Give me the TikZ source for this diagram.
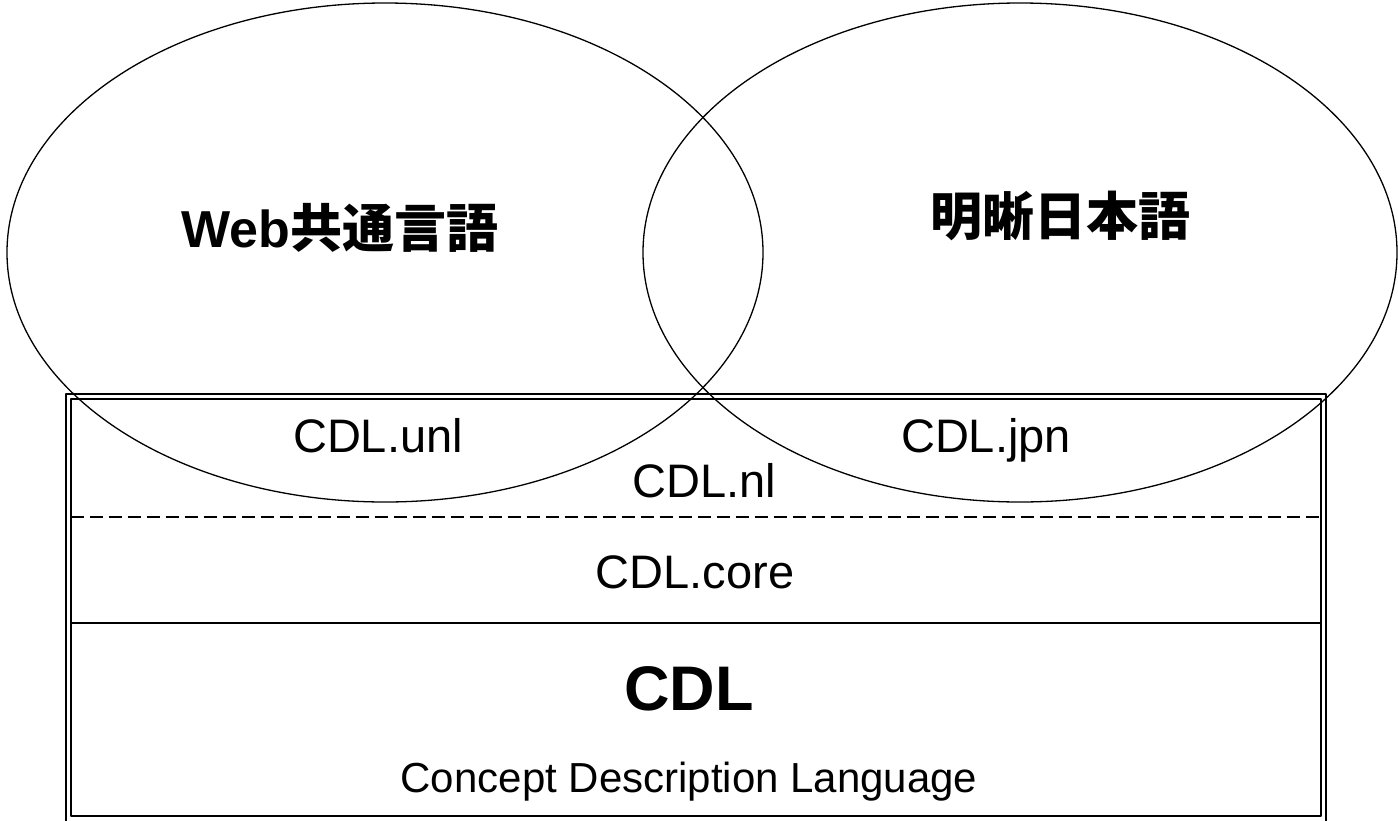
\documentclass[tikz,border=0pt]{standalone}
\usepackage{fontspec}
\setmainfont{Liberation Sans}
\newfontfamily\cjk{Noto Sans CJK JP}
\begin{document}
\begin{tikzpicture}[x=1pt,y=-1pt,line join=round,
	lbl/.style={inner sep=0pt,anchor=base,font=\fontsize{47}{50}\selectfont},
	ttl/.style={inner sep=0pt,font=\fontsize{52}{56}\selectfont\bfseries},
	rim/.style={line width=2pt}]
	\useasboundingbox (0,0) rectangle (1398,820);
	\draw[line width=1.3pt] (385,252.5) ellipse [x radius=378pt,y radius=249.5pt];
	\draw[line width=1.3pt] (1020,252.5) ellipse [x radius=377pt,y radius=249.5pt];
	\draw[rim] (65.5,394) rectangle (1325.5,830);
	\draw[rim] (70.5,398.5) rectangle (1320.5,816);
	\draw[rim,dash pattern=on 13pt off 6pt] (70.5,517) -- (1320.5,517);
	\draw[line width=1.5pt] (70.5,623) -- (1320.5,623);
	\node[ttl] (web) at (340,228) {Web{\cjk 共通言語}};
	\node[ttl] (mei) at (1060,216) {\cjk 明晰日本語};
	\node[lbl] (unl) at (378,452) {CDL.unl};
	\node[lbl] (jpn) at (986,452) {CDL.jpn};
	\node[lbl] (nl) at (704,497) {CDL.nl};
	\node[lbl] (core) at (695,588) {CDL.core};
	\node[lbl,font=\fontsize{63}{66}\selectfont\bfseries] (cdl) at (689,710) {CDL};
	\node[lbl,font=\fontsize{42}{45}\selectfont] (full) at (689,792) {Concept Description Language};
\end{tikzpicture}
\end{document}
